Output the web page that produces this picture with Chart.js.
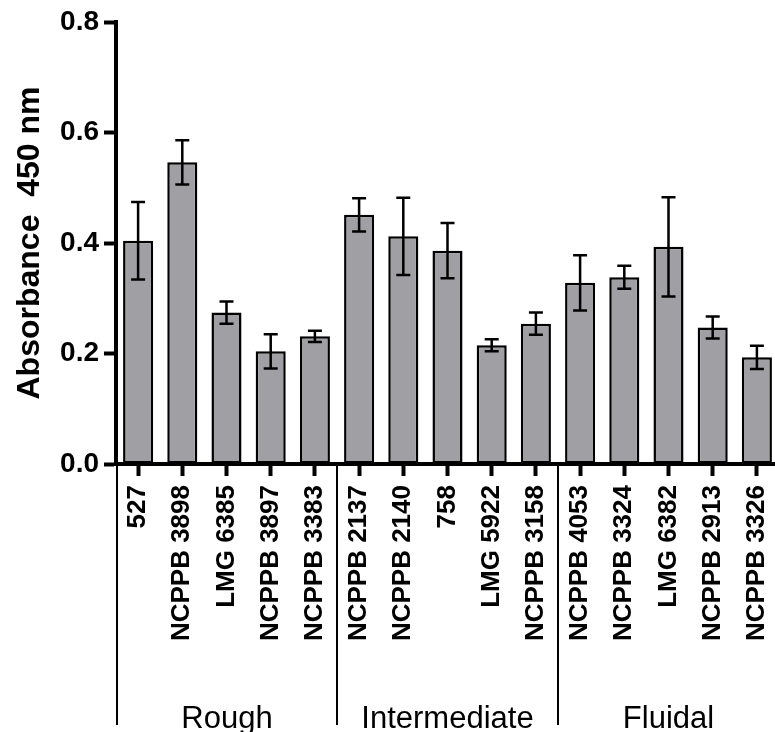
<!DOCTYPE html>
<html>
<head>
<meta charset="utf-8">
<script src="https://cdn.jsdelivr.net/npm/chart.js@4/dist/chart.umd.min.js"></script>
<style>
  html, body { margin: 0; padding: 0; background: #ffffff; overflow: hidden; }
  #wrap { width: 790px; height: 732px; }
</style>
</head>
<body>
<div id="wrap"><canvas id="c" width="790" height="732"></canvas></div>
<script>
const categories = ["527", "NCPPB 3898", "LMG 6385", "NCPPB 3897", "NCPPB 3383",
                    "NCPPB 2137", "NCPPB 2140", "758", "LMG 5922", "NCPPB 3158",
                    "NCPPB 4053", "NCPPB 3324", "LMG 6382", "NCPPB 2913", "NCPPB 3326"];
const means  = [0.404, 0.546, 0.274, 0.204, 0.231, 0.451, 0.412, 0.386, 0.215, 0.254, 0.328, 0.338, 0.393, 0.247, 0.193];
const errors = [0.070, 0.040, 0.020, 0.031, 0.010, 0.030, 0.070, 0.050, 0.011, 0.020, 0.050, 0.021, 0.090, 0.020, 0.021];
const groups = ["Rough", "Intermediate", "Fluidal"];
const groupSizes = [5, 5, 5];
const yTicks = [0.0, 0.2, 0.4, 0.6, 0.8];

const FONT = "'Liberation Sans', Arial, Helvetica, sans-serif";

const errorBarPlugin = {
  id: 'errorBars',
  afterDatasetsDraw(chart) {
    const ctx = chart.ctx;
    const meta = chart.getDatasetMeta(0);
    const y = chart.scales.y;
    ctx.save();
    ctx.strokeStyle = '#000';
    ctx.lineWidth = 2.5;
    meta.data.forEach((bar, i) => {
      const x = bar.x;
      const yt = y.getPixelForValue(means[i] + errors[i]);
      const yb = y.getPixelForValue(means[i] - errors[i]);
      ctx.beginPath();
      ctx.moveTo(x, yt); ctx.lineTo(x, yb);
      ctx.moveTo(x - 7, yt); ctx.lineTo(x + 7, yt);
      ctx.moveTo(x - 7, yb); ctx.lineTo(x + 7, yb);
      ctx.stroke();
    });
    ctx.restore();
  }
};

const groupPlugin = {
  id: 'groups',
  afterDraw(chart) {
    const ctx = chart.ctx;
    const xs = chart.scales.x;
    const area = chart.chartArea;
    const bottomY = 725;
    const textY = 728;
    ctx.save();
    ctx.strokeStyle = '#000';
    ctx.lineWidth = 2;
    ctx.fillStyle = '#000';
    ctx.font = "31px " + FONT;
    ctx.textAlign = 'center';
    ctx.textBaseline = 'alphabetic';
    let start = 0;
    const step = xs.getPixelForTick(1) - xs.getPixelForTick(0);
    groups.forEach((g, gi) => {
      const end = start + groupSizes[gi] - 1;
      const left = gi === 0 ? area.left + 1 : xs.getPixelForTick(start) - step / 2;
      const right = xs.getPixelForTick(end) + step / 2;
      ctx.beginPath();
      ctx.moveTo(left, area.bottom);
      ctx.lineTo(left, bottomY);
      ctx.stroke();
      ctx.fillText(g, (left + right) / 2, textY);
      start = end + 1;
    });
    ctx.restore();
  }
};

new Chart(document.getElementById('c'), {
  type: 'bar',
  data: {
    labels: categories,
    datasets: [{
      data: means,
      backgroundColor: '#a0a0a4',
      borderColor: '#000',
      borderWidth: 2.5,
      borderSkipped: false,
      barPercentage: 0.68,
      categoryPercentage: 1.0
    }]
  },
  options: {
    responsive: false,
    devicePixelRatio: 1,
    animation: false,
    layout: { padding: { top: 22, right: 11, bottom: 0, left: 0 } },
    plugins: { legend: { display: false }, tooltip: { enabled: false }, title: { display: false } },
    scales: {
      x: {
        afterFit(scale) {
          scale.height = 268;
          scale.paddingLeft = 0;
          scale.paddingRight = 0;
        },
        grid: {
          offset: false, drawOnChartArea: false, drawTicks: true,
          tickLength: 12, tickWidth: 4, tickColor: '#000'
        },
        border: { display: true, color: '#000', width: 4 },
        ticks: {
          color: '#000', maxRotation: 90, minRotation: 90, autoSkip: false, padding: 9,
          font: { family: FONT, size: 26, weight: 'bold' }
        }
      },
      y: {
        min: 0, max: 0.8,
        afterFit(scale) { scale.width = 116; },
        afterBuildTicks(scale) { scale.ticks = yTicks.map(v => ({ value: v })); },
        grid: {
          drawOnChartArea: false, drawTicks: true,
          tickLength: 12, tickWidth: 4, tickColor: '#000'
        },
        border: { display: true, color: '#000', width: 4 },
        ticks: {
          color: '#000', padding: 5,
          font: { family: FONT, size: 28, weight: 'bold' },
          callback: (v) => Number(v).toFixed(1)
        },
        title: {
          display: true, text: 'Absorbance  450 nm', color: '#000',
          font: { family: FONT, size: 32, weight: 'bold' },
          padding: { top: 11, bottom: 0 }
        }
      }
    }
  },
  plugins: [errorBarPlugin, groupPlugin]
});
</script>
</body>
</html>
